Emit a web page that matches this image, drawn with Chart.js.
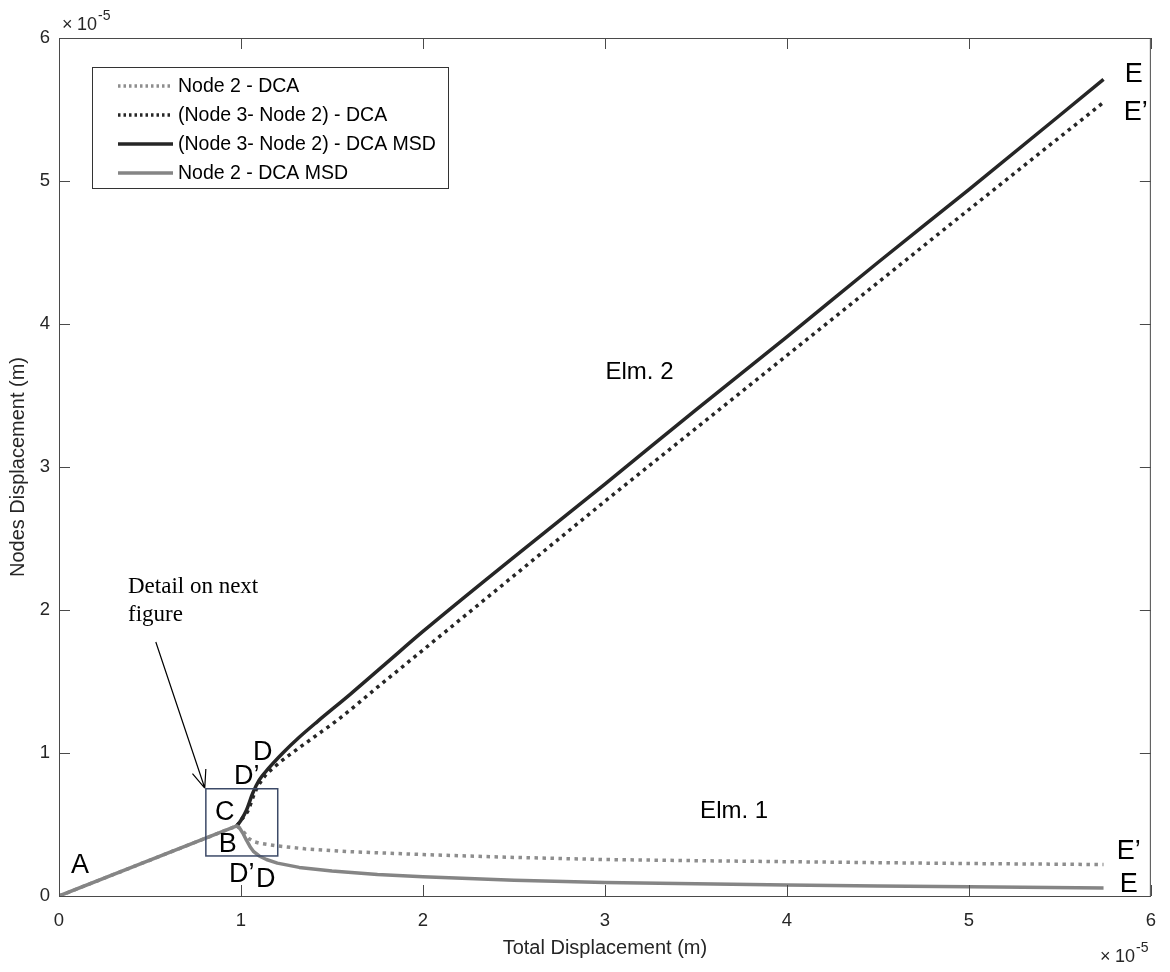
<!DOCTYPE html>
<html>
<head>
<meta charset="utf-8">
<script src="https://cdn.jsdelivr.net/npm/chart.js@4/dist/chart.umd.min.js"></script>
<style>
  html, body { margin: 0; padding: 0; background: #fff; }
  #wrap { width: 1170px; height: 972px; }
</style>
</head>
<body>
<div id="wrap"><canvas id="chart" width="1170" height="972"></canvas></div>
<script>
// values in units of 1e-5 m
const tickValues = [0, 1, 2, 3, 4, 5, 6];

const node2DcaX = [0, 0.977, 1.0, 1.02, 1.045, 1.07, 1.1, 1.2, 1.35, 1.6, 2, 2.5, 3, 3.5, 4, 4.5, 5, 5.74];
const node2DcaY = [0, 0.49, 0.47, 0.44, 0.40, 0.38, 0.37, 0.35, 0.33, 0.31, 0.29, 0.27, 0.255, 0.247, 0.24, 0.233, 0.227, 0.22];

const diffDcaX = [0.977, 1.0, 1.04, 1.075, 1.12, 1.2, 1.27, 1.4, 1.54, 1.75, 2, 2.5, 3, 3.5, 4, 4.5, 5, 5.74];
const diffDcaY = [0.49, 0.53, 0.6, 0.72, 0.82, 0.92, 0.99, 1.11, 1.24, 1.46, 1.72, 2.24, 2.76, 3.27, 3.78, 4.29, 4.8, 5.55];

const diffMsdX = [0.977, 1.0, 1.03, 1.065, 1.1, 1.15, 1.23, 1.32, 1.42, 1.6, 1.8, 2, 2.5, 3, 3.5, 4, 4.5, 5, 5.74];
const diffMsdY = [0.49, 0.53, 0.6, 0.72, 0.81, 0.89, 1.0, 1.11, 1.22, 1.41, 1.63, 1.85, 2.37, 2.88, 3.4, 3.91, 4.43, 4.94, 5.71];

const node2MsdX = [0, 0.977, 0.995, 1.01, 1.03, 1.05, 1.07, 1.1, 1.14, 1.2, 1.32, 1.5, 1.75, 2, 2.5, 3, 3.5, 4, 4.5, 5, 5.74];
const node2MsdY = [0, 0.49, 0.47, 0.44, 0.39, 0.345, 0.31, 0.28, 0.255, 0.23, 0.2, 0.175, 0.15, 0.135, 0.11, 0.095, 0.085, 0.077, 0.07, 0.064, 0.056];

const seriesNames = ["Node 2 - DCA", "(Node 3- Node 2) - DCA", "(Node 3- Node 2) - DCA MSD", "Node 2 - DCA MSD"];

// text labels placed in data coordinates
const pointLabels = [
  { t: "A", x: 0.115, y: 0.21 },
  { t: "B", x: 0.928, y: 0.357 },
  { t: "C", x: 0.911, y: 0.587 },
  { t: "D\u2019", x: 1.032, y: 0.832 },
  { t: "D", x: 1.12, y: 1.0 },
  { t: "D\u2019", x: 1.004, y: 0.147 },
  { t: "D", x: 1.136, y: 0.112 },
  { t: "E", x: 5.906, y: 5.741 },
  { t: "E\u2019", x: 5.917, y: 5.476 },
  { t: "E\u2019", x: 5.879, y: 0.308 },
  { t: "E", x: 5.879, y: 0.077 }
];
const elmLabels = [
  { t: "Elm. 2", x: 3.19, y: 3.66 },
  { t: "Elm. 1", x: 3.71, y: 0.594 }
];
const detailLines = ["Detail on next", "figure"];
const detailPos = { x: 0.379, y: 2.16, y2: 1.965 };
const arrowFrom = { x: 0.532, y: 1.776 };
const arrowTo = { x: 0.801, y: 0.755 };
const detailBox = { x0: 0.807, x1: 1.202, y0: 0.28, y1: 0.75 };

const toXY = (xs, ys) => xs.map((x, i) => ({ x: x, y: ys[i] }));

const GRAY = "#858585";
const DARK = "#262626";

const styles = [
  { color: "#8e8e8e", dash: [3.5, 4.5], smooth: false },
  { color: DARK, dash: [3.5, 4.5], smooth: true },
  { color: DARK, dash: [], smooth: true },
  { color: GRAY, dash: [], smooth: false }
];

const datasets = [
  { label: seriesNames[0], data: toXY(node2DcaX, node2DcaY), order: 3 },
  { label: seriesNames[1], data: toXY(diffDcaX, diffDcaY), order: 2 },
  { label: seriesNames[2], data: toXY(diffMsdX, diffMsdY), order: 1 },
  { label: seriesNames[3], data: toXY(node2MsdX, node2MsdY), order: 0 }
].map((d, i) => Object.assign(d, {
  borderColor: styles[i].color,
  borderDash: styles[i].dash,
  borderWidth: 3.5,
  pointRadius: 0,
  tension: styles[i].smooth ? 0.4 : 0,
  cubicInterpolationMode: styles[i].smooth ? "monotone" : "default",
  fill: false,
  borderCapStyle: "butt",
  borderJoinStyle: "round"
}));

function drawExp(ctx, x, y) {
  ctx.save();
  ctx.fillStyle = DARK;
  ctx.textBaseline = "middle";
  ctx.textAlign = "left";
  ctx.font = "18px 'Liberation Sans', Arial, sans-serif";
  ctx.fillText("\u00d7", x, y);
  ctx.fillText("10", x + 15, y);
  ctx.font = "14px 'Liberation Sans', Arial, sans-serif";
  ctx.fillText("-5", x + 36, y - 9);
  ctx.restore();
}

const matlabPlugin = {
  id: "matlabPlugin",
  afterDatasetsDraw(chart) {
    const ctx = chart.ctx;
    const xs = chart.scales.x, ys = chart.scales.y;
    const a = chart.chartArea;
    const px = v => xs.getPixelForValue(v);
    const py = v => ys.getPixelForValue(v);

    ctx.save();
    // box and inward ticks
    ctx.strokeStyle = "#4a4a4a";
    ctx.lineWidth = 1;
    ctx.strokeRect(a.left + 0.5, a.top + 0.5, a.right - a.left - 1, a.bottom - a.top);
    ctx.beginPath();
    tickValues.forEach(v => {
      const x = Math.round(px(v)) + 0.5;
      ctx.moveTo(x, a.bottom); ctx.lineTo(x, a.bottom - 11);
      ctx.moveTo(x, a.top); ctx.lineTo(x, a.top + 11);
      const y = Math.round(py(v)) + 0.5;
      ctx.moveTo(a.left, y); ctx.lineTo(a.left + 11, y);
      ctx.moveTo(a.right, y); ctx.lineTo(a.right - 11, y);
    });
    ctx.stroke();

    // legend
    const lx = 92, ly = 67, lw = 356, lh = 121;
    ctx.fillStyle = "#fff";
    ctx.fillRect(lx, ly, lw, lh);
    ctx.strokeStyle = "#333";
    ctx.strokeRect(lx + 0.5, ly + 0.5, lw, lh);
    ctx.font = "19.5px 'Liberation Sans', Arial, sans-serif";
    ctx.textAlign = "left";
    ctx.textBaseline = "middle";
    chart.data.datasets.forEach((d, i) => {
      const yy = 86 + i * 29;
      ctx.beginPath();
      ctx.strokeStyle = d.borderColor;
      ctx.lineWidth = 3.5;
      ctx.setLineDash(d.borderDash.length ? [2.5, 3] : []);
      ctx.moveTo(118, yy); ctx.lineTo(173, yy);
      ctx.stroke();
      ctx.setLineDash([]);
      ctx.fillStyle = "#000";
      ctx.fillText(d.label, 178, yy + 1);
    });

    // detail box and arrow
    ctx.strokeStyle = "#3c4a68";
    ctx.lineWidth = 1.5;
    const bx0 = px(detailBox.x0), bx1 = px(detailBox.x1);
    const by0 = py(detailBox.y1), by1 = py(detailBox.y0);
    ctx.strokeRect(bx0, by0, bx1 - bx0, by1 - by0);

    const ax0 = px(arrowFrom.x), ay0 = py(arrowFrom.y);
    const ax1 = px(arrowTo.x), ay1 = py(arrowTo.y);
    ctx.strokeStyle = "#000";
    ctx.lineWidth = 1.2;
    ctx.beginPath();
    ctx.moveTo(ax0, ay0); ctx.lineTo(ax1, ay1);
    const ang = Math.atan2(ay1 - ay0, ax1 - ax0);
    const hl = 19;
    ctx.moveTo(ax1, ay1); ctx.lineTo(ax1 - hl * Math.cos(ang - 0.38), ay1 - hl * Math.sin(ang - 0.38));
    ctx.moveTo(ax1, ay1); ctx.lineTo(ax1 - hl * Math.cos(ang + 0.38), ay1 - hl * Math.sin(ang + 0.38));
    ctx.stroke();

    ctx.fillStyle = "#000";
    ctx.font = "23px 'Liberation Serif', 'Times New Roman', serif";
    ctx.textAlign = "left";
    ctx.fillText(detailLines[0], px(detailPos.x), py(detailPos.y));
    ctx.fillText(detailLines[1], px(detailPos.x), py(detailPos.y2));

    // point labels
    ctx.textAlign = "center";
    ctx.font = "27px 'Liberation Sans', Arial, sans-serif";
    pointLabels.forEach(l => ctx.fillText(l.t, px(l.x), py(l.y)));
    ctx.font = "24px 'Liberation Sans', Arial, sans-serif";
    elmLabels.forEach(l => ctx.fillText(l.t, px(l.x), py(l.y)));
    ctx.restore();

    drawExp(ctx, 62, 25);
    drawExp(ctx, 1100, 957);
  }
};

const tickFont = { family: "'Liberation Sans', Arial, sans-serif", size: 18.5 };
const titleFont = { family: "'Liberation Sans', Arial, sans-serif", size: 20 };

new Chart(document.getElementById("chart"), {
  type: "line",
  data: { datasets: datasets },
  options: {
    responsive: false,
    animation: false,
    layout: { padding: { top: 38, right: 18, left: 0, bottom: 0 } },
    plugins: { legend: { display: false }, tooltip: { enabled: false } },
    scales: {
      x: {
        type: "linear",
        min: 0, max: 6,
        afterBuildTicks: s => { s.ticks = tickValues.map(v => ({ value: v })); },
        afterFit: s => { s.height = 76; },
        grid: { display: false, drawTicks: false },
        border: { display: false },
        ticks: { font: tickFont, color: DARK, padding: 14, maxRotation: 0, callback: v => String(v) },
        title: { display: true, text: "Total Displacement (m)", font: titleFont, color: DARK, padding: { top: 0, bottom: 12 } }
      },
      y: {
        type: "linear",
        min: 0, max: 6,
        afterBuildTicks: s => { s.ticks = tickValues.map(v => ({ value: v })); },
        afterFit: s => { s.width = 59; },
        grid: { display: false, drawTicks: false },
        border: { display: false },
        ticks: { font: tickFont, color: DARK, padding: 9, callback: v => String(v) },
        title: { display: true, text: "Nodes Displacement (m)", font: titleFont, color: DARK, padding: { top: 6, bottom: 0 } }
      }
    }
  },
  plugins: [matlabPlugin]
});
</script>
</body>
</html>
